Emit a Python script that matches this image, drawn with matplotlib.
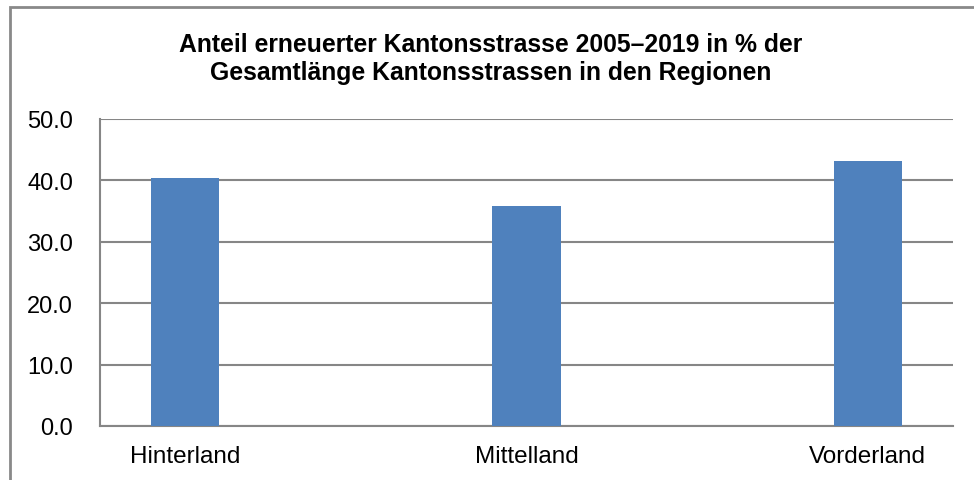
import matplotlib
matplotlib.use("Agg")
import matplotlib.pyplot as plt
from matplotlib.patches import Rectangle

# Daten
regionen = ["Hinterland", "Mittelland", "Vorderland"]
anteil = [40.4, 35.8, 43.2]
y_ticks = [0, 10, 20, 30, 40, 50]

plt.rcParams["font.family"] = ["Liberation Sans", "DejaVu Sans"]

fig = plt.figure(figsize=(9.74, 4.81), dpi=100)
ax = fig.add_axes([100 / 974, 1 - 427 / 481, 853 / 974, 307 / 481])

x = range(len(regionen))
ax.bar(x, anteil, width=0.2, color="#4F81BD", zorder=3)

ax.set_xlim(-0.25, 2.25)
ax.set_ylim(0, 50)
ax.set_yticks(y_ticks)
ax.set_yticklabels([f"{v:.1f}" for v in y_ticks], fontsize=17)
ax.set_xticks(list(x))
ax.set_xticklabels(regionen, fontsize=17.5)
ax.tick_params(axis="both", length=0, colors="black")
ax.tick_params(axis="y", pad=19.5)
ax.tick_params(axis="x", pad=14)

ax.yaxis.grid(True, color="#868686", linewidth=1.5, zorder=0)
for s in ["top", "right"]:
    ax.spines[s].set_visible(False)
for s in ["left", "bottom"]:
    ax.spines[s].set_color("#868686")
    ax.spines[s].set_linewidth(1.5)

fig.text(491 / 974, 1 - 59 / 481,
         "Anteil erneuerter Kantonsstrasse 2005–2019 in % der\n"
         "Gesamtlänge Kantonsstrassen in den Regionen",
         ha="center", va="center", fontsize=17.8, fontweight="bold",
         linespacing=1.2)

# Rahmen um das Diagramm
fig.patches.append(Rectangle((9.5 / 974, -0.05), 1.0, 1 - 7.5 / 481 + 0.05,
                             transform=fig.transFigure, fill=False,
                             edgecolor="#898989", linewidth=2))

fig.savefig("out.png", dpi=100)
